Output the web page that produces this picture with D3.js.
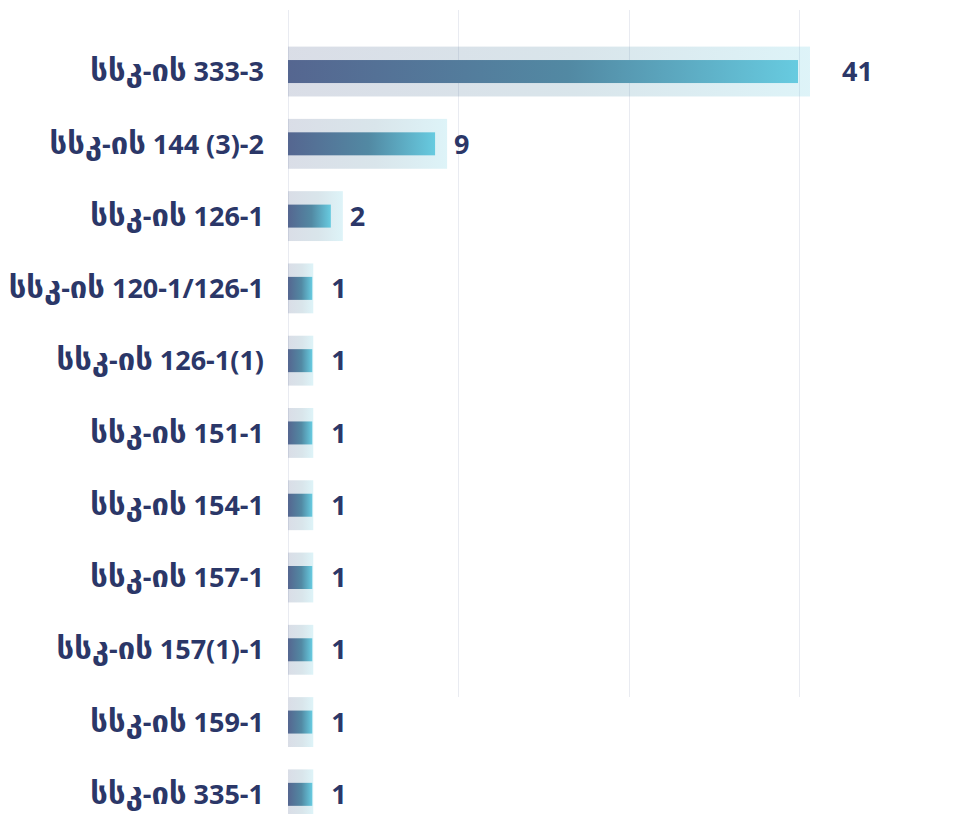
<!DOCTYPE html>
<html>
<head>
<meta charset="utf-8">
<script src="https://cdn.jsdelivr.net/npm/d3@7/dist/d3.min.js"></script>
<style>
	html, body { margin: 0; padding: 0; background: #fff; }
	text { font-family: "Open Sans", "DejaVu Sans", sans-serif; font-weight: 700; fill: #2b3768; }
</style>
</head>
<body>
<svg id="chart"></svg>
<script>
// Article counts per code, horizontal bars with a faint halo behind each bar.
var categories = [
	'სსკ-ის 333-3',
	'სსკ-ის 144 (3)-2',
	'სსკ-ის 126-1',
	'სსკ-ის 120-1/126-1',
	'სსკ-ის 126-1(1)',
	'სსკ-ის 151-1',
	'სსკ-ის 154-1',
	'სსკ-ის 157-1',
	'სსკ-ის 157(1)-1',
	'სსკ-ის 159-1',
	'სსკ-ის 335-1'
];
var values = [41, 9, 2, 1, 1, 1, 1, 1, 1, 1, 1];
var gridTicks = [0, 1, 2, 3];

function drawBars(selector) {
	var width = 959, height = 814;
	var left = 288, right = 798;

	var svg = d3.select(selector)
		.attr('width', width)
		.attr('height', height);

	var defs = svg.append('defs');
	var grad = defs.append('linearGradient')
		.attr('id', 'barGrad')
		.attr('x1', 0).attr('x2', 1).attr('y1', 0).attr('y2', 0);
	grad.append('stop').attr('offset', '0%').attr('stop-color', '#556690');
	grad.append('stop').attr('offset', '55%').attr('stop-color', '#5289a3');
	grad.append('stop').attr('offset', '100%').attr('stop-color', '#67cbe0');

	// bar lengths in the picture grow slower than the counts
	var x = d3.scalePow().exponent(0.82)
		.domain([0, d3.max(values)])
		.range([left, right]);

	var grid = d3.scaleLinear()
		.domain([0, 3])
		.range([left, right + 1]);

	var y = d3.scaleBand()
		.domain(categories)
		.range([35.4, 35.4 + 72.28 * categories.length])
		.paddingInner(0.31)
		.paddingOuter(0.155);

	svg.append('g')
		.selectAll('line')
		.data(gridTicks)
		.join('line')
			.attr('x1', function(d) { return Math.round(grid(d)) + 0.5; })
			.attr('x2', function(d) { return Math.round(grid(d)) + 0.5; })
			.attr('y1', 10)
			.attr('y2', 697)
			.attr('stroke', '#e9ebf1')
			.attr('stroke-width', 1);

	var rows = svg.append('g')
		.selectAll('g')
		.data(categories)
		.join('g')
			.attr('transform', function(d) { return 'translate(0,' + y(d) + ')'; });

	var bw = y.bandwidth();
	var barH = 23;

	rows.append('rect')
		.attr('x', left)
		.attr('y', 0)
		.attr('width', function(d, i) { return x(values[i]) - left + (values[i] > 1 ? 12 : 1); })
		.attr('height', bw)
		.attr('fill', 'url(#barGrad)')
		.attr('opacity', 0.22);

	rows.append('rect')
		.attr('x', left)
		.attr('y', (bw - barH) / 2)
		.attr('width', function(d, i) { return x(values[i]) - left; })
		.attr('height', barH)
		.attr('fill', 'url(#barGrad)');

	// Georgian runs get a bigger size so they match the width of the original font
	var label = rows.append('text')
		.attr('x', 264)
		.attr('y', bw / 2)
		.attr('dy', '0.36em')
		.attr('text-anchor', 'end')
		.style('font-size', '27px');

	label.selectAll('tspan')
		.data(function(d) { return d.match(/[\u10A0-\u10FF]+|[^\u10A0-\u10FF]+/g); })
		.join('tspan')
			.style('font-size', function(s) { return /[\u10A0-\u10FF]/.test(s) ? '31px' : null; })
			.text(function(s) { return s; });

	rows.append('text')
		.attr('x', function(d, i) { return x(values[i]) + (values[i] > 9 ? 44 : 19); })
		.attr('y', bw / 2)
		.attr('dy', '0.36em')
		.style('font-size', '27px')
		.text(function(d, i) { return values[i]; });
}

drawBars('#chart');
</script>
</body>
</html>
